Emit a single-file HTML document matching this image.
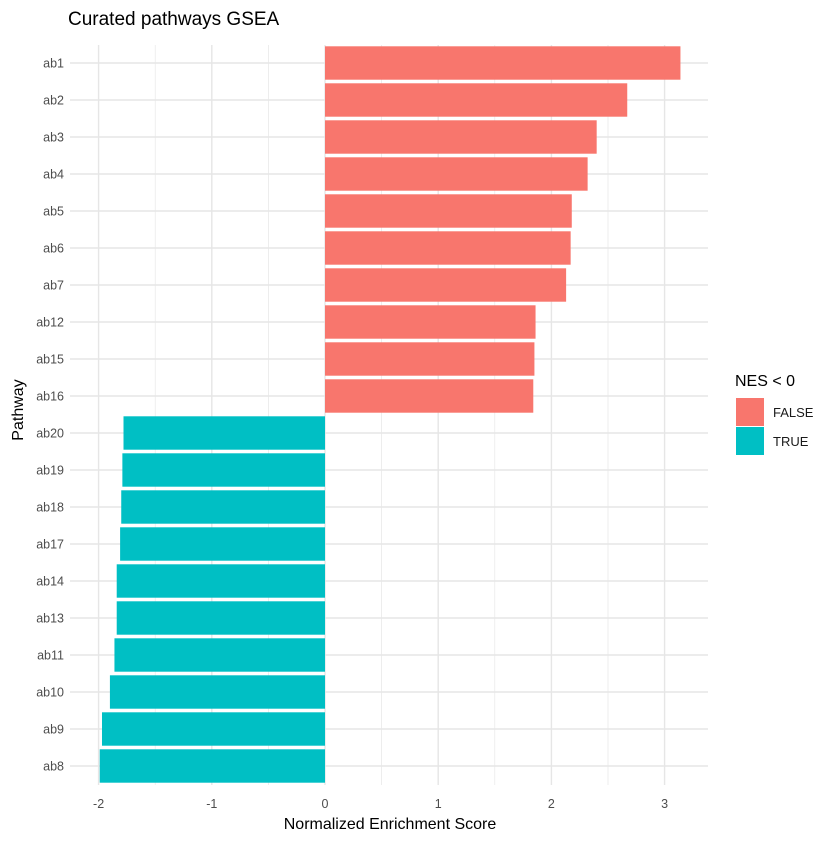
<!DOCTYPE html>
<html><head><meta charset="utf-8"><style>
body{margin:0;background:#fff;font-family:"Liberation Sans",Arial,sans-serif}
svg text{font-family:"Liberation Sans",Arial,sans-serif}
</style></head><body>
<svg id="chart" width="840" height="840" xmlns="http://www.w3.org/2000/svg">
<rect width="840" height="840" fill="#fff"/>
<text x="68" y="25" font-size="19" fill="#000">Curated pathways GSEA</text>
<g id="grid"></g><g id="bars"></g><g id="axes"></g>
<text x="390" y="829" font-size="16" text-anchor="middle">Normalized Enrichment Score</text>
<text transform="translate(23,410) rotate(-90)" font-size="16" text-anchor="middle">Pathway</text>
<g>
<text x="735" y="386" font-size="16">NES &lt; 0</text>
<rect x="736" y="398" width="28" height="28" fill="#F8766D"/>
<text x="773" y="417" font-size="13" fill="#1a1a1a">FALSE</text>
<rect x="736" y="427" width="28" height="28" fill="#00BFC4"/>
<text x="773" y="446" font-size="13" fill="#1a1a1a">TRUE</text>
</g>
</svg>
<script>
const categories=["ab1","ab2","ab3","ab4","ab5","ab6","ab7","ab12","ab15","ab16","ab20","ab19","ab18","ab17","ab14","ab13","ab11","ab10","ab9","ab8"];
const nesValues=[3.14,2.67,2.40,2.32,2.18,2.17,2.13,1.86,1.85,1.84,-1.78,-1.79,-1.80,-1.81,-1.84,-1.84,-1.86,-1.90,-1.97,-1.99];
const xTicks=[-2,-1,0,1,2,3];
const NS="http://www.w3.org/2000/svg";
const x=v=>325+v*113.2;
const y=i=>63+i*37;
const px0=70,px1=708,py0=45,py1=785;
function mk(tag,attrs,parent){const e=document.createElementNS(NS,tag);for(const k in attrs)e.setAttribute(k,attrs[k]);parent.appendChild(e);return e;}
const grid=document.getElementById('grid'),bars=document.getElementById('bars'),axes=document.getElementById('axes');
for(let t=xTicks[0]-0.5;t<=xTicks[xTicks.length-1]+0.5;t+=0.5){
 if(x(t)<px0||x(t)>px1)continue;
 const major=Number.isInteger(t);
 const l=mk('line',{x1:x(t),x2:x(t),y1:py0,y2:py1,stroke:'#e6e6e6','stroke-width':major?1.4:0.7},grid);
 
 
}
categories.forEach((c,i)=>{
 const l=mk('line',{x1:px0,x2:px1,y1:y(i),y2:y(i),stroke:'#e6e6e6','stroke-width':1.4},grid);
 
 
 const v=nesValues[i];
 const r=mk('rect',{x:Math.min(x(0),x(v)),y:y(i)-16.7,width:Math.abs(x(v)-x(0)),height:33.4,fill:v<0?'#00BFC4':'#F8766D'},bars);
 
 
 const t=mk('text',{x:64,y:y(i)+4.5,'font-size':12.5,'text-anchor':'end',fill:'#4d4d4d'},axes);
 t.textContent=c;
 
 
});
xTicks.forEach(v=>{
 const t=mk('text',{x:x(v),y:808,'font-size':12.5,'text-anchor':'middle',fill:'#4d4d4d'},axes);
 t.textContent=v;
 
 
});
</script>
</body></html>
